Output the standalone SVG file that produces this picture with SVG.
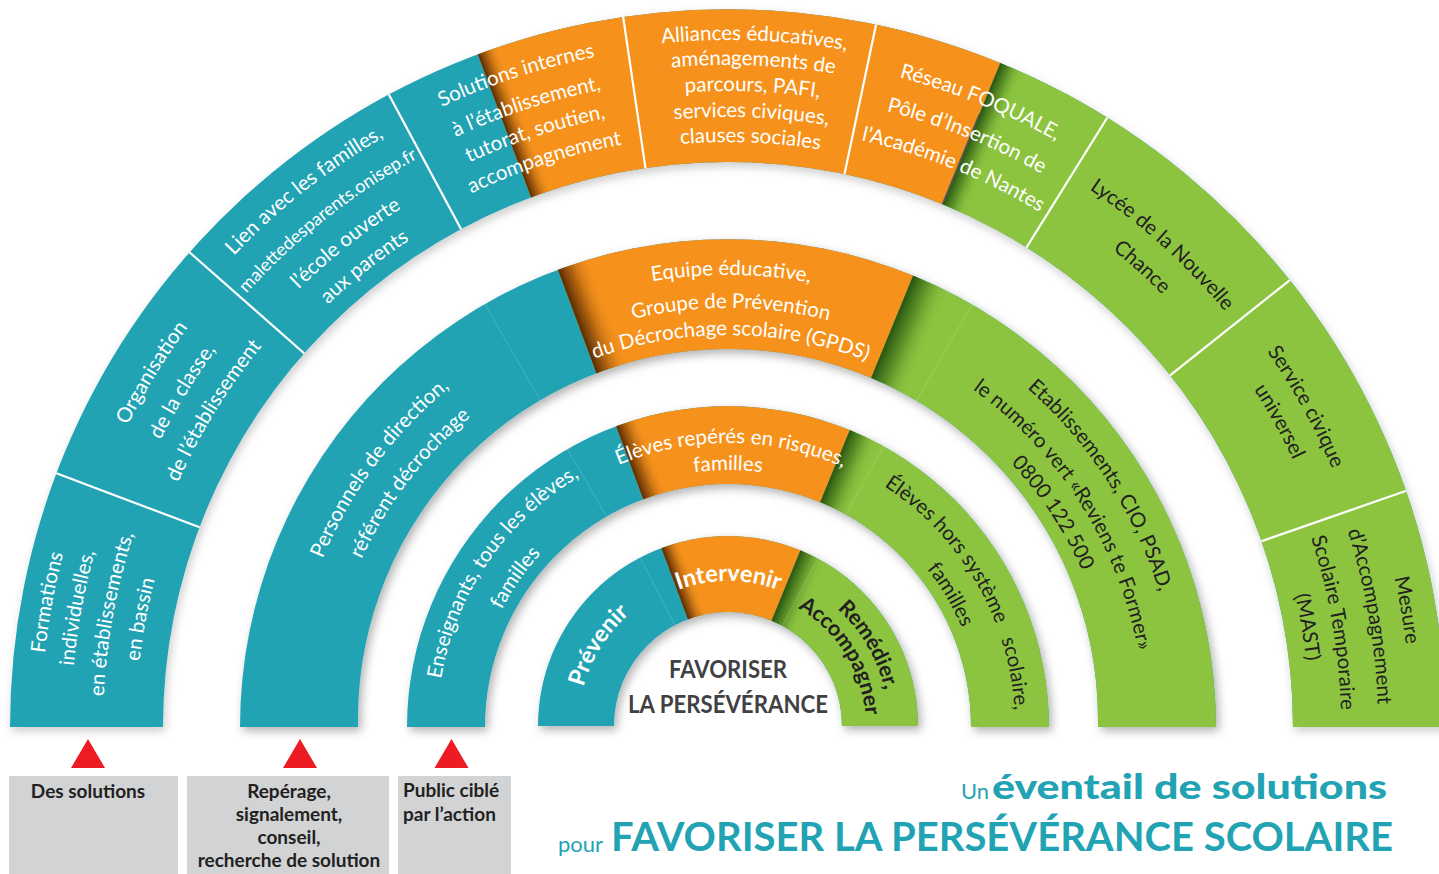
<svg xmlns="http://www.w3.org/2000/svg" xmlns:xlink="http://www.w3.org/1999/xlink" width="1439" height="874" viewBox="0 0 1439 874">
<style>
.t{font-family:Lato,"Open Sans","DejaVu Sans",sans-serif;font-size:20.5px;text-anchor:middle}
.w{fill:#fff}
.d{fill:#231f20}
.b{font-weight:700;font-size:21.5px}
.big{font-size:23.5px}
.teal{fill:#22a3b4}
.or{fill:#f6921e}
.gr{fill:#8cc43f}
.div{stroke:#fff;stroke-width:2.2}
.seam{stroke:#fff;stroke-opacity:.15;stroke-width:1}
.lg{font-family:Lato,"Open Sans","DejaVu Sans",sans-serif;font-weight:700;font-size:19px;fill:#231f20}
.ttl{font-family:Lato,"Open Sans","DejaVu Sans",sans-serif;fill:#22a3b4}
.ctr{font-family:Lato,"Open Sans","DejaVu Sans",sans-serif;font-weight:700;font-size:24px;fill:#414042;text-anchor:middle}
</style>
<defs>
<filter id="ds" x="-10%" y="-10%" width="120%" height="125%"><feDropShadow dx="3" dy="4" stdDeviation="5" flood-color="#000" flood-opacity="0.3"/></filter>
<filter id="ds4" x="-10%" y="-10%" width="120%" height="125%"><feDropShadow dx="2" dy="4" stdDeviation="5" flood-color="#000" flood-opacity="0.2"/></filter>
<linearGradient id="shB" x1="0" y1="0" x2="0" y2="1"><stop offset="0" stop-color="#4a2300" stop-opacity=".92"/><stop offset=".35" stop-color="#6b3500" stop-opacity=".55"/><stop offset="1" stop-color="#f6921e" stop-opacity="0"/></linearGradient>
<linearGradient id="shG" x1="0" y1="0" x2="0" y2="1"><stop offset="0" stop-color="#1f4a0c" stop-opacity=".92"/><stop offset=".4" stop-color="#2f5f12" stop-opacity=".5"/><stop offset="1" stop-color="#8cc43f" stop-opacity="0"/></linearGradient>
<clipPath id="c1"><path d="M538 726A190 190 0 0 1 918 726L842 726A114 114 0 0 0 614 726Z"/></clipPath>
<clipPath id="c2"><path d="M407 727A321 321 0 0 1 1049 727L971 727A243 243 0 0 0 485 727Z"/></clipPath>
<clipPath id="c3"><path d="M240 727A488 488 0 0 1 1216 727L1098 727L1098 719A370 370 0 0 0 358 719L358 727Z"/></clipPath>
<clipPath id="c4"><path d="M10 727A718 718 0 0 1 1446 727L1293 727A565 565 0 0 0 163 727Z"/></clipPath>
<path id="p687" d="M41 727A687 687 0 0 1 1415 727"/>
<path id="p683" d="M45 727A683 683 0 0 1 1411 727"/>
<path id="p672" d="M56 727A672 672 0 0 1 1400 727"/>
<path id="p662" d="M66 727A662 662 0 0 1 1390 727"/>
<path id="p657" d="M71 727A657 657 0 0 1 1385 727"/>
<path id="p650" d="M78 727A650 650 0 0 1 1378 727"/>
<path id="p648" d="M80 727A648 648 0 0 1 1376 727"/>
<path id="p636" d="M92 727A636 636 0 0 1 1364 727"/>
<path id="p625" d="M103 727A625 625 0 0 1 1353 727"/>
<path id="p621" d="M107 727A621 621 0 0 1 1349 727"/>
<path id="p613" d="M115 727A613 613 0 0 1 1341 727"/>
<path id="p610" d="M118 727A610 610 0 0 1 1338 727"/>
<path id="p602" d="M126 727A602 602 0 0 1 1330 727"/>
<path id="p592" d="M136 727A592 592 0 0 1 1320 727"/>
<path id="p585" d="M143 727A585 585 0 0 1 1313 727"/>
<path id="p582" d="M146 727A582 582 0 0 1 1310 727"/>
<path id="p452" d="M276 727A452 452 0 0 1 1180 727"/>
<path id="p439" d="M289 727A439 439 0 0 1 1167 727"/>
<path id="p419" d="M309 727A419 419 0 0 1 1147 727"/>
<path id="p417" d="M311 727A417 417 0 0 1 1145 727"/>
<path id="p403" d="M325 727A403 403 0 0 1 1131 727"/>
<path id="p392" d="M336 727A392 392 0 0 1 1120 727"/>
<path id="p387" d="M341 727A387 387 0 0 1 1115 727"/>
<path id="p291" d="M437 727A291 291 0 0 1 1019 727"/>
<path id="p287" d="M441 727A287 287 0 0 1 1015 727"/>
<path id="p284" d="M444 727A284 284 0 0 1 1012 727"/>
<path id="p257" d="M471 727A257 257 0 0 1 985 727"/>
<path id="p255" d="M473 727A255 255 0 0 1 983 727"/>
<path id="p254" d="M474 727A254 254 0 0 1 982 727"/>
<path id="p161" d="M567 727A161 161 0 0 1 889 727"/>
<path id="p150" d="M578 727A150 150 0 0 1 878 727"/>
<path id="p146" d="M582 727A146 146 0 0 1 874 727"/>
<path id="p138" d="M590 727A138 138 0 0 1 866 727"/>
</defs>
<rect width="1439" height="874" fill="#fff"/>

<!-- Ring 4 -->
<g id="ring4">
<g filter="url(#ds4)">
<g clip-path="url(#c4)">
<rect class="teal" x="0" y="0" width="1439" height="728"/>
<polygon class="or" points="728,727 449.1,-22.8 1031.6,-13.2"/>
<polygon class="gr" points="728,727 1031.6,-13.2 1500,-13.2 1500,728"/>
<rect x="1288" y="727" width="170" height="22" fill="url(#shB)" transform="rotate(-110.4 728 727)"/>
<rect x="1288" y="727" width="170" height="26" fill="url(#shG)" transform="rotate(-67.7 728 727)"/>
<line x1="1293" y1="727" x2="1390" y2="727" stroke="#58595b" stroke-width="1.6" transform="rotate(-67.7 728 727)"/>
<g class="div">
<line x1="1278" y1="727" x2="1458" y2="727" transform="rotate(-159.3 728 727)"/>
<line x1="1278" y1="727" x2="1458" y2="727" transform="rotate(-138.6 728 727)"/>
<line x1="1278" y1="727" x2="1458" y2="727" transform="rotate(-118.2 728 727)"/>
<line x1="1278" y1="727" x2="1458" y2="727" transform="rotate(-98.4 728 727)"/>
<line x1="1278" y1="727" x2="1458" y2="727" transform="rotate(-78.1 728 727)"/>
<line x1="1278" y1="727" x2="1458" y2="727" transform="rotate(-58.1 728 727)"/>
<line x1="1278" y1="727" x2="1458" y2="727" transform="rotate(-38.5 728 727)"/>
<line x1="1278" y1="727" x2="1458" y2="727" transform="rotate(-19.2 728 727)"/>
</g>
</g>
</g>
<g id="s-formations" class="t w">
<text><textPath href="#p687" startOffset="5.78%">Formations</textPath></text>
<text><textPath href="#p657" startOffset="5.78%">individuelles,</textPath></text>
<text><textPath href="#p625" startOffset="5.78%">en établissements,</textPath></text>
<text><textPath href="#p592" startOffset="5.78%">en bassin</textPath></text>
</g>
<g id="s-organisation" class="t w">
<text><textPath href="#p672" startOffset="17.56%">Organisation</textPath></text>
<text><textPath href="#p636" startOffset="17.56%">de la classe,</textPath></text>
<text><textPath href="#p602" startOffset="17.56%">de l’établissement</textPath></text>
</g>
<g id="s-lien" class="t w">
<text><textPath href="#p683" startOffset="28.72%">Lien avec les familles,</textPath></text>
<text style="font-size:18px"><textPath href="#p648" startOffset="28.72%">malettedesparents.onisep.fr</textPath></text>
<text><textPath href="#p613" startOffset="28.72%">l’école ouverte</textPath></text>
<text><textPath href="#p582" startOffset="28.72%">aux parents</textPath></text>
</g>
<g id="s-solutions" class="t w">
<text><textPath href="#p683" startOffset="40%">Solutions internes</textPath></text>
<text><textPath href="#p650" startOffset="40%">à l’établissement,</textPath></text>
<text><textPath href="#p621" startOffset="40%">tutorat, soutien,</textPath></text>
<text><textPath href="#p592" startOffset="40%">accompagnement</textPath></text>
</g>
<g id="s-alliances" class="t w">
<text><textPath href="#p687" startOffset="51.22%">Alliances éducatives,</textPath></text>
<text><textPath href="#p662" startOffset="51.22%">aménagements de</textPath></text>
<text><textPath href="#p636" startOffset="51.22%">parcours, PAFI,</textPath></text>
<text><textPath href="#p610" startOffset="51.22%">services civiques,</textPath></text>
<text><textPath href="#p585" startOffset="51.22%">clauses sociales</textPath></text>
</g>
<g id="s-reseau" class="t w">
<text><textPath href="#p672" startOffset="62.22%">Réseau FOQUALE,</textPath></text>
<text><textPath href="#p636" startOffset="62.22%">Pôle d’Insertion de</textPath></text>
<text><textPath href="#p602" startOffset="62.22%">l’Académie de Nantes</textPath></text>
</g>
<g id="s-lycee" class="t d">
<text><textPath href="#p648" startOffset="73.33%">Lycée de la Nouvelle</textPath></text>
<text><textPath href="#p613" startOffset="73.33%">Chance</textPath></text>
</g>
<g id="s-service" class="t d">
<text><textPath href="#p657" startOffset="83.89%">Service civique</textPath></text>
<text><textPath href="#p625" startOffset="83.89%">universel</textPath></text>
</g>
<g id="s-mesure" class="t d">
<text><textPath href="#p683" startOffset="94.56%">Mesure</textPath></text>
<text><textPath href="#p650" startOffset="94.56%">d’Accompagnement</textPath></text>
<text><textPath href="#p613" startOffset="94.56%">Scolaire Temporaire</textPath></text>
<text><textPath href="#p582" startOffset="94.56%">(MAST)</textPath></text>
</g>
</g>

<!-- Ring 3 -->
<g id="ring3">
<g filter="url(#ds)">
<g clip-path="url(#c3)">
<rect class="teal" x="0" y="0" width="1439" height="728"/>
<polygon class="or" points="728,727 449.1,-22.8 1031.6,-13.2"/>
<polygon class="gr" points="728,727 1031.6,-13.2 1500,-13.2 1500,728"/>
<rect x="1090" y="727" width="140" height="34" fill="url(#shB)" transform="rotate(-110.4 728 727)"/>
<rect x="1090" y="727" width="140" height="40" fill="url(#shG)" transform="rotate(-67.7 728 727)"/>
<line class="seam" x1="1090" y1="727" x2="1230" y2="727" transform="rotate(-119.9 728 727)"/>
<line class="seam" x1="1090" y1="727" x2="1230" y2="727" transform="rotate(-60 728 727)"/>
</g>
</g>
<g id="s-personnels" class="t w">
<text><textPath href="#p439" startOffset="20.33%">Personnels de direction,</textPath></text>
<text><textPath href="#p403" startOffset="20.83%">référent décrochage</textPath></text>
</g>
<g id="s-equipe" class="t w">
<text><textPath href="#p452" startOffset="50.22%">Equipe éducative,</textPath></text>
<text><textPath href="#p419" startOffset="50.22%">Groupe de Prévention</textPath></text>
<text><textPath href="#p392" startOffset="50.22%">du Décrochage scolaire (GPDS)</textPath></text>
</g>
<g id="s-etablissements" class="t d">
<text><textPath href="#p452" startOffset="81.67%">Etablissements, CIO, PSAD,</textPath></text>
<text><textPath href="#p417" startOffset="82.06%">le numéro vert «Reviens te Former»</textPath></text>
<text><textPath href="#p387" startOffset="81.44%">0800 122 500</textPath></text>
</g>
</g>

<!-- Ring 2 -->
<g id="ring2">
<g filter="url(#ds)">
<g clip-path="url(#c2)">
<rect class="teal" x="0" y="0" width="1439" height="728"/>
<polygon class="or" points="728,727 449.1,-22.8 1031.6,-13.2"/>
<polygon class="gr" points="728,727 1031.6,-13.2 1500,-13.2 1500,728"/>
<rect x="963" y="727" width="95" height="25" fill="url(#shB)" transform="rotate(-110.4 728 727)"/>
<rect x="963" y="727" width="95" height="32" fill="url(#shG)" transform="rotate(-67.7 728 727)"/>
<line class="seam" x1="963" y1="727" x2="1058" y2="727" transform="rotate(-120 728 727)"/>
<line class="seam" x1="963" y1="727" x2="1058" y2="727" transform="rotate(-61 728 727)"/>
</g>
</g>
<g id="s-enseignants" class="t w">
<text><textPath href="#p291" startOffset="19.11%">Enseignants, tous les élèves,</textPath></text>
<text><textPath href="#p255" startOffset="19.5%">familles</textPath></text>
</g>
<g id="s-reperes" class="t w">
<text><textPath href="#p284" startOffset="50.33%">Élèves repérés en risques,</textPath></text>
<text><textPath href="#p257" startOffset="50%">familles</textPath></text>
</g>
<g id="s-hors" class="t d">
<text><textPath href="#p287" startOffset="83.22%">Élèves hors système&#160;&#160;&#160;scolaire,</textPath></text>
<text><textPath href="#p254" startOffset="82.89%">familles</textPath></text>
</g>
</g>

<!-- Ring 1 -->
<g id="ring1">
<g filter="url(#ds)">
<g clip-path="url(#c1)">
<rect class="teal" x="0" y="0" width="1439" height="728"/>
<polygon class="or" points="728,727 449.1,-22.8 1031.6,-13.2"/>
<polygon class="gr" points="728,727 1031.6,-13.2 1500,-13.2 1500,728"/>
<rect x="836" y="727" width="90" height="20" fill="url(#shB)" transform="rotate(-110.4 728 727)"/>
<rect x="836" y="727" width="90" height="28" fill="url(#shG)" transform="rotate(-67.7 728 727)"/>
<line class="seam" x1="836" y1="727" x2="926" y2="727" transform="rotate(-117.5 728 727)"/>
<line class="seam" x1="836" y1="727" x2="926" y2="727" transform="rotate(-61.9 728 727)"/>
</g>
</g>
<g id="s-prevenir" class="t w b big">
<text><textPath href="#p150" startOffset="17.89%">Prévenir</textPath></text>
</g>
<g id="s-intervenir" class="t w b big">
<text><textPath href="#p146" startOffset="50.11%">Intervenir</textPath></text>
</g>
<g id="s-remedier" class="t d b">
<text><textPath href="#p161" startOffset="83.17%">Remédier,</textPath></text>
<text><textPath href="#p138" startOffset="82.11%">Accompagner</textPath></text>
</g>
</g>

<g id="center">
<text class="ctr" x="728" y="678" textLength="118" lengthAdjust="spacingAndGlyphs">FAVORISER</text>
<text class="ctr" x="728" y="713" textLength="200" lengthAdjust="spacingAndGlyphs">LA PERSÉVÉRANCE</text>
</g>

<g id="legend1">
<polygon points="88,739 71,768 105,768" fill="#ed1c24"/>
<rect x="9" y="776" width="169" height="98" fill="#d1d3d4"/>
<text class="lg" x="88" y="798" text-anchor="middle">Des solutions</text>
</g>
<g id="legend2">
<polygon points="300,739 283,768 317,768" fill="#ed1c24"/>
<rect x="187" y="776" width="202" height="98" fill="#d1d3d4"/>
<text class="lg" text-anchor="middle"><tspan x="289" y="798">Repérage,</tspan><tspan x="289" y="821">signalement,</tspan><tspan x="289" y="844">conseil,</tspan><tspan x="289" y="867">recherche de solution</tspan></text>
</g>
<g id="legend3">
<polygon points="451.5,739 434.5,768 468.5,768" fill="#ed1c24"/>
<rect x="398" y="776" width="113" height="98" fill="#d1d3d4"/>
<text class="lg"><tspan x="403" y="797">Public ciblé</tspan><tspan x="403" y="821">par l’action</tspan></text>
</g>

<g id="title">
<text class="ttl" x="961" y="799" font-size="21" textLength="28" lengthAdjust="spacingAndGlyphs">Un</text>
<text class="ttl" x="992" y="799" font-size="35" font-weight="900" textLength="395" lengthAdjust="spacingAndGlyphs">éventail de solutions</text>
<text class="ttl" x="558" y="852" font-size="21" textLength="45" lengthAdjust="spacingAndGlyphs">pour</text>
<text class="ttl" x="611" y="851" font-size="40" font-weight="700" textLength="782" lengthAdjust="spacingAndGlyphs">FAVORISER LA PERSÉVÉRANCE SCOLAIRE</text>
</g>
</svg>
